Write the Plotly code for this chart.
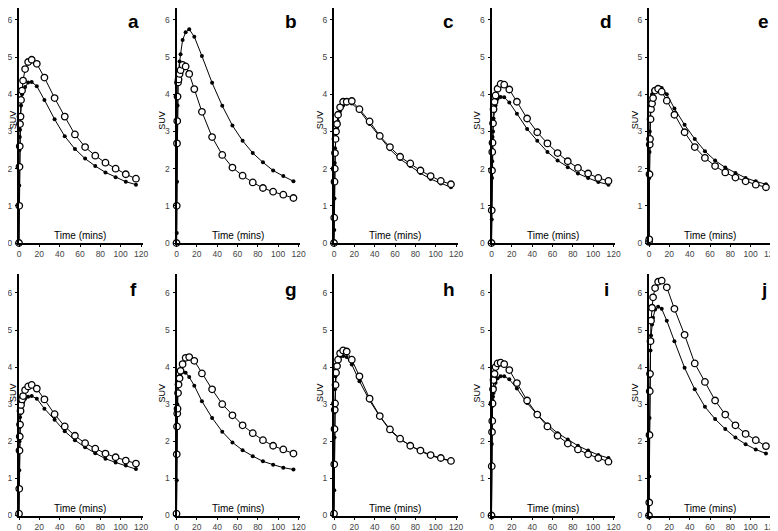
import plotly.graph_objects as go

# Time points (mins)
T = [0, 0.25, 0.5, 0.75, 1, 1.5, 2, 3, 4, 6, 9, 12.5, 17.5, 25, 35, 45, 55, 65, 75, 85, 95, 105, 115]

panel_labels = ["a", "b", "c", "d", "e", "f", "g", "h", "i", "j"]

a_open = [0, 1.0, 2.05, 2.6, 3.2, 3.4, 3.85, 4.1, 4.37, 4.68, 4.87, 4.93, 4.82, 4.45, 3.9, 3.4, 2.92, 2.58, 2.35, 2.16, 2.0, 1.85, 1.73]
a_fill = [0, 1.55, 2.5, 2.85, 3.05, 3.4, 3.7, 4.0, 4.1, 4.2, 4.32, 4.33, 4.22, 3.85, 3.33, 2.87, 2.53, 2.27, 2.07, 1.9, 1.77, 1.65, 1.57]
b_open = [0, 1.0, 2.68, 3.28, 3.94, 4.32, 4.4, 4.55, 4.65, 4.79, 4.75, 4.55, 4.14, 3.53, 2.85, 2.37, 2.03, 1.81, 1.63, 1.48, 1.38, 1.3, 1.21]
b_fill = [0, 0.27, 1.65, 2.7, 3.7, 4.3, 4.6, 4.88, 5.08, 5.46, 5.67, 5.75, 5.55, 5.03, 4.31, 3.69, 3.16, 2.75, 2.42, 2.17, 1.95, 1.8, 1.66]
c_open = [0, 0.68, 1.65, 2.0, 2.42, 2.8, 3.0, 3.2, 3.45, 3.65, 3.8, 3.8, 3.82, 3.6, 3.27, 2.88, 2.58, 2.32, 2.14, 1.95, 1.8, 1.67, 1.58]
c_fill = [0, 0.35, 1.2, 2.15, 2.55, 2.8, 2.95, 3.1, 3.27, 3.55, 3.7, 3.75, 3.75, 3.57, 3.2, 2.85, 2.52, 2.26, 2.07, 1.88, 1.72, 1.6, 1.5]
d_open = [0, 0.88, 1.95, 2.45, 2.7, 3.22, 3.6, 3.8, 3.97, 4.15, 4.28, 4.26, 4.13, 3.8, 3.35, 2.98, 2.68, 2.42, 2.2, 2.02, 1.87, 1.75, 1.67]
d_fill = [0, 0.63, 1.75, 2.2, 2.85, 3.0, 3.35, 3.55, 3.7, 3.88, 3.93, 3.92, 3.78, 3.48, 3.07, 2.75, 2.45, 2.22, 2.04, 1.87, 1.75, 1.64, 1.57]
e_open = [0.03, 0.1, 1.85, 2.65, 2.8, 3.33, 3.6, 3.75, 3.9, 4.1, 4.15, 4.07, 3.83, 3.45, 2.98, 2.58, 2.29, 2.07, 1.9, 1.76, 1.66, 1.57, 1.5]
e_fill = [0, 1.75, 2.45, 3.0, 3.3, 3.6, 3.8, 4.0, 4.1, 4.15, 4.18, 4.17, 4.0, 3.62, 3.18, 2.8, 2.47, 2.22, 2.03, 1.88, 1.75, 1.66, 1.58]
f_open = [0.05, 0.72, 1.75, 2.13, 2.45, 2.82, 2.98, 3.13, 3.22, 3.38, 3.48, 3.52, 3.42, 3.13, 2.73, 2.4, 2.15, 1.95, 1.8, 1.67, 1.57, 1.48, 1.4]
f_fill = [0.02, 1.22, 2.0, 2.38, 2.65, 2.75, 2.85, 2.95, 3.05, 3.15, 3.2, 3.22, 3.15, 2.88, 2.58, 2.27, 2.03, 1.84, 1.68, 1.53, 1.43, 1.35, 1.25]
g_open = [0.05, 1.65, 2.4, 2.75, 2.88, 3.3, 3.53, 3.7, 3.9, 4.08, 4.25, 4.27, 4.17, 3.83, 3.4, 3.0, 2.7, 2.43, 2.22, 2.03, 1.88, 1.78, 1.67]
g_fill = [0, 0.95, 2.9, 3.0, 3.3, 3.55, 3.65, 3.75, 3.82, 3.87, 3.85, 3.73, 3.5, 3.08, 2.63, 2.26, 1.97, 1.76, 1.6, 1.46, 1.37, 1.29, 1.24]
h_open = [0.05, 1.38, 2.33, 2.85, 3.02, 3.52, 3.85, 4.03, 4.2, 4.37, 4.45, 4.42, 4.2, 3.75, 3.15, 2.68, 2.32, 2.07, 1.88, 1.75, 1.63, 1.55, 1.47]
h_fill = [0, 0.68, 2.1, 2.78, 3.4, 3.75, 3.9, 4.05, 4.15, 4.28, 4.3, 4.27, 4.07, 3.62, 3.1, 2.67, 2.3, 2.05, 1.88, 1.73, 1.62, 1.53, 1.47]
i_open = [0, 1.33, 2.25, 2.55, 3.02, 3.4, 3.65, 3.82, 4.0, 4.1, 4.12, 4.08, 3.92, 3.57, 3.1, 2.72, 2.4, 2.15, 1.94, 1.78, 1.65, 1.55, 1.45]
i_fill = [0, 1.93, 2.6, 2.95, 3.1, 3.2, 3.3, 3.45, 3.58, 3.7, 3.75, 3.75, 3.67, 3.42, 3.03, 2.72, 2.45, 2.22, 2.05, 1.88, 1.75, 1.63, 1.55]
j_open = [0, 0.35, 2.17, 3.35, 3.82, 4.7, 5.25, 5.6, 5.88, 6.13, 6.3, 6.33, 6.15, 5.57, 4.87, 4.1, 3.6, 3.1, 2.72, 2.43, 2.2, 2.03, 1.87]
j_fill = [0, 1.05, 2.63, 3.42, 3.75, 4.45, 4.85, 5.15, 5.33, 5.55, 5.63, 5.57, 5.25, 4.7, 3.98, 3.4, 2.93, 2.6, 2.33, 2.1, 1.92, 1.78, 1.67]

open_series = [a_open, b_open, c_open, d_open, e_open, f_open, g_open, h_open, i_open, j_open]
fill_series = [a_fill, b_fill, c_fill, d_fill, e_fill, f_fill, g_fill, h_fill, i_fill, j_fill]

x_ticks = [0, 20, 40, 60, 80, 100, 120]
y_ticks = [0, 1, 2, 3, 4, 5, 6]

OFF = 8  # page body margin offset in the browser
W, H = 778, 531 - OFF
AX_X = [19 - OFF, 176.5 - OFF, 334 - OFF, 491.5 - OFF, 649 - OFF]
PX_PER_MIN = 1.017
XMAX = 121.5
YMAX = 6.5
ROW_Y0 = [243 - OFF, 515.5 - OFF]
PX_PER_UNIT = [37.17, 37.1]
LETTER_Y = [5.95, 6.1]

FONT = "Liberation Sans, Arial, sans-serif"

fig = go.Figure()
annotations = []
layout = {}

for k in range(10):
    row, col = divmod(k, 5)
    suffix = "" if k == 0 else str(k + 1)
    xa, ya = "x" + suffix, "y" + suffix
    x0 = AX_X[col] / W
    x1 = min(1.0, (AX_X[col] + XMAX * PX_PER_MIN) / W)
    top_px = max(0.0, ROW_Y0[row] - YMAX * PX_PER_UNIT[row])
    ymax = (ROW_Y0[row] - top_px) / PX_PER_UNIT[row]
    y0 = (H - ROW_Y0[row]) / H
    y1 = (H - top_px) / H

    common = dict(
        showline=True, linecolor="black", linewidth=2,
        ticks="outside", ticklen=2, tickwidth=1, tickcolor="black",
        showgrid=False, zeroline=False, automargin=False,
        tickfont=dict(family=FONT, size=8.5, color="#444"),
    )
    layout["xaxis" + suffix] = dict(
        common, domain=[x0, x1], range=[0, XMAX], tickvals=x_ticks,
        anchor=ya, ticklabelstandoff=0,
    )
    layout["yaxis" + suffix] = dict(
        common, domain=[y0, y1], range=[0, ymax], tickvals=y_ticks,
        anchor=xa, ticklabelstandoff=1,
    )

    fig.add_trace(go.Scatter(
        x=T, y=fill_series[k], xaxis=xa, yaxis=ya, mode="lines+markers",
        line=dict(color="black", width=1),
        marker=dict(symbol="circle", size=4, color="black"),
        cliponaxis=False, showlegend=False,
    ))
    fig.add_trace(go.Scatter(
        x=T, y=open_series[k], xaxis=xa, yaxis=ya, mode="lines+markers",
        line=dict(color="black", width=1),
        marker=dict(symbol="circle", size=6.5, color="white",
                    line=dict(color="black", width=1.3)),
        cliponaxis=False, showlegend=False,
    ))

    annotations.append(dict(
        xref=xa, yref=ya, x=113, y=LETTER_Y[row], text="<b>" + panel_labels[k] + "</b>",
        showarrow=False, font=dict(family=FONT, size=19, color="black"),
        xanchor="center", yanchor="middle",
    ))
    annotations.append(dict(
        xref=xa, yref=ya, x=60, y=0, text="Time (mins)", showarrow=False,
        font=dict(family=FONT, size=10, color="black"),
        xanchor="center", yanchor="bottom", yshift=0,
    ))
    suv_x = max(AX_X[col] - 14, 5)
    annotations.append(dict(
        xref="paper", yref=ya, x=suv_x / W, y=3.3, text="SUV",
        showarrow=False, textangle=-90,
        font=dict(family=FONT, size=9, color="black"),
        xanchor="center", yanchor="middle",
    ))

fig.update_layout(
    width=W, height=H,
    margin=dict(l=0, r=0, t=0, b=0),
    paper_bgcolor="white", plot_bgcolor="white",
    annotations=annotations,
    **layout,
)

fig.write_html("out.html")
